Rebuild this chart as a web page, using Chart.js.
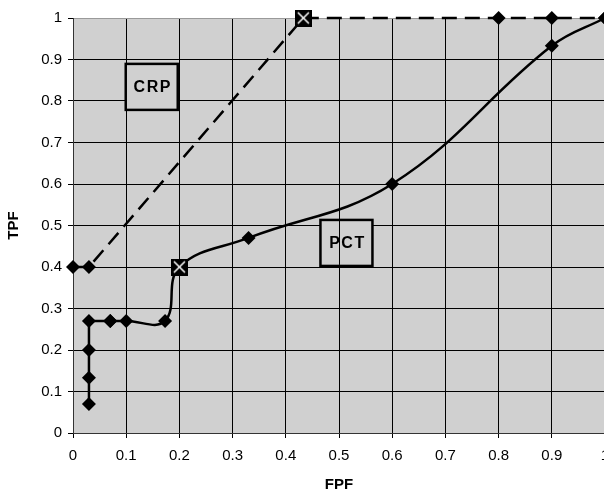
<!DOCTYPE html>
<html>
<head>
<meta charset="utf-8">
<script src="https://cdn.jsdelivr.net/npm/chart.js@4"></script>
<style>
	body { margin: 0; overflow: hidden; background: #fff; }
</style>
</head>
<body>
<canvas id="roc" width="620" height="494"></canvas>
<script>
// values
const crpX = [0, 0.03, 0.433, 0.8, 0.9, 1];
const crpY = [0.4, 0.4, 1, 1, 1, 1];
const crpCross = [false, false, true, false, false, false];

const pctX = [0.03, 0.03, 0.03, 0.03, 0.07, 0.1, 0.173, 0.2, 0.33, 0.6, 0.9, 1];
const pctY = [0.07, 0.133, 0.2, 0.27, 0.27, 0.27, 0.27, 0.4, 0.47, 0.6, 0.933, 1];
const pctCross = [false, false, false, false, false, false, false, true, false, false, false, false];
// the step at the start is drawn straight, the rest smoothed
const pctBend = 4;

const boxLabels = [
	{ text: 'CRP', x: 0.148, y: 0.834 },
	{ text: 'PCT', x: 0.514, y: 0.458 },
];

const font = "'Liberation Sans', Arial, sans-serif";
const plotGray = '#d0d0d0';

// black square with white cross
function crossMarker() {
	const c = document.createElement('canvas');
	c.width = 17;
	c.height = 17;
	const g = c.getContext('2d');
	g.fillStyle = '#000';
	g.fillRect(0, 0, 17, 17);
	g.strokeStyle = '#fff';
	g.lineWidth = 1.5;
	g.beginPath();
	g.moveTo(3, 3);
	g.lineTo(14, 14);
	g.moveTo(14, 3);
	g.lineTo(3, 14);
	g.stroke();
	return c;
}
const cross = crossMarker();

function toPoints(xs, ys) {
	return xs.map((x, i) => ({ x: x, y: ys[i] }));
}

const pointOpts = (flags) => ({
	pointStyle: flags.map((f) => (f ? cross : 'rectRot')),
	pointRadius: flags.map((f) => (f ? 9 : 7)),
	pointBackgroundColor: '#000',
	pointBorderColor: '#000',
	pointBorderWidth: 0,
	pointHoverRadius: 0,
});

const plotBackground = {
	id: 'plotBackground',
	beforeDraw(chart) {
		const { ctx, chartArea: a } = chart;
		ctx.save();
		ctx.fillStyle = plotGray;
		ctx.fillRect(a.left, a.top, a.right - a.left, a.bottom - a.top);
		ctx.restore();
	},
};

const labelBoxes = {
	id: 'labelBoxes',
	afterDatasetsDraw(chart) {
		const { ctx, scales } = chart;
		const w = 52;
		const h = 46;
		ctx.save();
		for (const b of boxLabels) {
			const cx = scales.x.getPixelForValue(b.x);
			const cy = scales.y.getPixelForValue(b.y);
			ctx.fillStyle = plotGray;
			ctx.fillRect(cx - w / 2, cy - h / 2, w, h);
			ctx.strokeStyle = '#000';
			ctx.lineWidth = 2.5;
			ctx.strokeRect(cx - w / 2, cy - h / 2, w, h);
			ctx.fillStyle = '#000';
			ctx.font = 'bold 16px ' + font;
			ctx.letterSpacing = '1.5px';
			ctx.textAlign = 'center';
			ctx.textBaseline = 'middle';
			ctx.fillText(b.text, cx + 1, cy + 1);
		}
		// the 0.5 grid line shows through the PCT box
		const gx = Math.round(scales.x.getPixelForValue(0.5)) + 0.5;
		const pc = scales.y.getPixelForValue(boxLabels[1].y);
		ctx.strokeStyle = '#000';
		ctx.lineWidth = 1;
		ctx.beginPath();
		ctx.moveTo(gx, pc - h / 2 + 1);
		ctx.lineTo(gx, pc + h / 2 - 1);
		ctx.stroke();
		ctx.restore();
	},
};

const tickLabel = (v) => String(Math.round(v * 10) / 10);

const config = {
	type: 'scatter',
	data: {
		datasets: [
			{
				label: 'CRP',
				data: toPoints(crpX, crpY),
				showLine: true,
				borderColor: '#000',
				borderWidth: 2.5,
				borderDash: [15, 8],
				tension: 0,
				clip: false,
				...pointOpts(crpCross),
			},
			{
				label: 'PCT step',
				data: toPoints(pctX.slice(0, pctBend + 1), pctY.slice(0, pctBend + 1)),
				showLine: true,
				borderColor: '#000',
				borderWidth: 2.5,
				tension: 0,
				clip: false,
				...pointOpts(pctCross.slice(0, pctBend + 1)),
			},
			{
				label: 'PCT',
				data: toPoints(pctX.slice(pctBend), pctY.slice(pctBend)),
				showLine: true,
				borderColor: '#000',
				borderWidth: 2.5,
				tension: 0.4,
				clip: false,
				...pointOpts(pctCross.slice(pctBend)),
			},
		],
	},
	options: {
		responsive: false,
		animation: false,
		events: [],
		layout: { padding: { left: 0, top: 18, right: 15, bottom: 0 } },
		plugins: {
			legend: { display: false },
			tooltip: { enabled: false },
		},
		scales: {
			x: {
				type: 'linear',
				min: 0,
				max: 1,
				afterFit: (s) => { s.height = 61; },
				ticks: {
					stepSize: 0.1,
					color: '#000',
					padding: 9,
					font: { family: font, size: 15 },
					callback: tickLabel,
				},
				grid: {
					color: '#000',
					tickColor: '#000',
					tickLength: 5,
				},
				border: { color: '#333', width: 1 },
				title: {
					display: true,
					text: 'FPF',
					color: '#000',
					padding: { top: 0, bottom: 0 },
					font: { family: font, size: 15, weight: 'bold' },
				},
			},
			y: {
				type: 'linear',
				min: 0,
				max: 1,
				afterFit: (s) => { s.width = 73; },
				ticks: {
					stepSize: 0.1,
					color: '#000',
					padding: 6,
					font: { family: font, size: 15 },
					callback: tickLabel,
				},
				grid: {
					color: (ctx) => (ctx.tick && ctx.tick.value === 1 ? '#9a9a9a' : '#000'),
					tickColor: '#000',
					tickLength: 5,
				},
				border: { color: '#333', width: 1 },
				title: {
					display: true,
					text: 'TPF',
					color: '#000',
					padding: { top: 5, bottom: 0 },
					font: { family: font, size: 15, weight: 'bold' },
				},
			},
		},
	},
	plugins: [plotBackground, labelBoxes],
};

new Chart(document.getElementById('roc'), config);
</script>
</body>
</html>
